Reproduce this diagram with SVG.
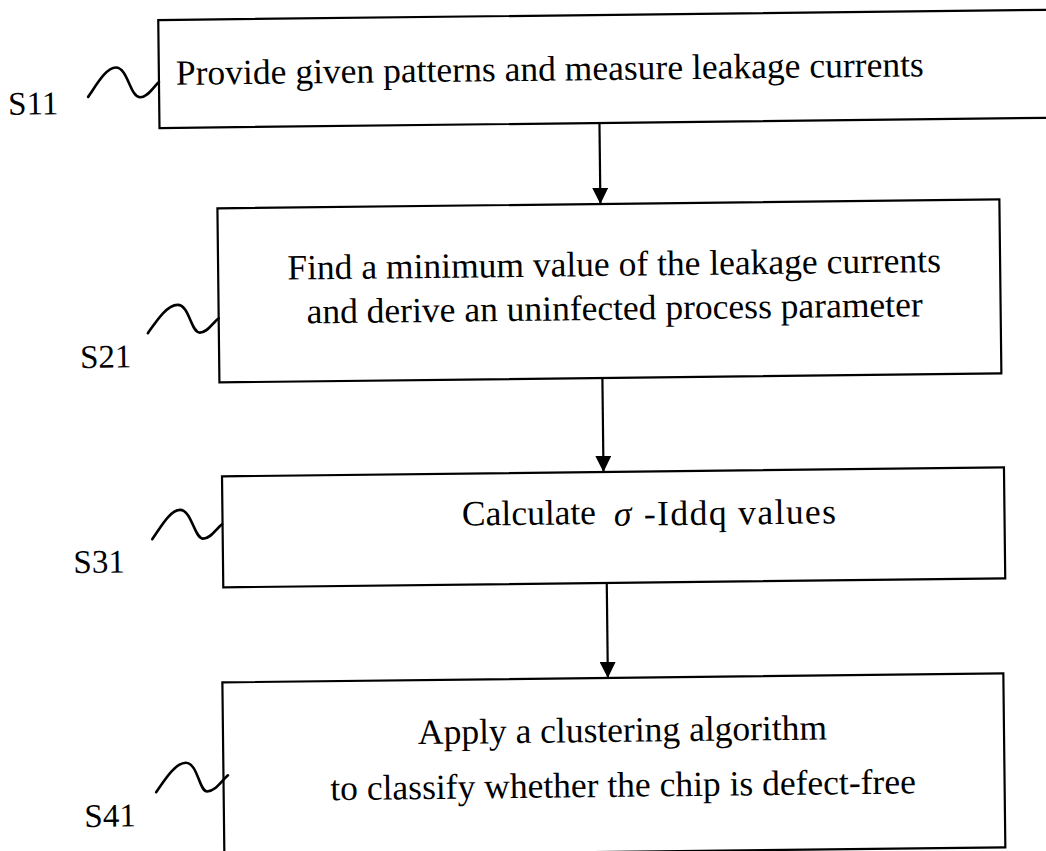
<svg xmlns="http://www.w3.org/2000/svg" width="1046" height="851" viewBox="0 0 1046 851">
<defs>
<marker id="ah" markerWidth="16" markerHeight="16" refX="16" refY="8" orient="auto" markerUnits="userSpaceOnUse"><path d="M0,0 L16,8 L0,16 Z" fill="#000"/></marker>
</defs>
<style>
.box{fill:#fff;stroke:#000;stroke-width:2.2}
.t{font-family:"Liberation Serif","Times New Roman",serif;font-size:35.5px;fill:#000}
.lbl{font-family:"Liberation Serif","Times New Roman",serif;font-size:33px;fill:#000}
.sq{fill:none;stroke:#000;stroke-width:2.6;stroke-linecap:round;stroke-linejoin:round}
.conn{stroke:#000;stroke-width:2.2;fill:none}
</style>
<rect width="1046" height="851" fill="#fff"/>
<g transform="rotate(-0.66 600 430)">
<g id="connectors">
<line class="conn" x1="603" y1="124" x2="603" y2="204" marker-end="url(#ah)"/>
<line class="conn" x1="603" y1="378" x2="603" y2="472" marker-end="url(#ah)"/>
<line class="conn" x1="605" y1="583" x2="605" y2="678" marker-end="url(#ah)"/>
</g>
<g id="S11">
<rect class="box" x="163" y="15" width="920" height="108"/>
<text class="t" x="180" y="80" textLength="748">Provide given patterns and measure leakage currents</text>
<path class="sq" d="M92,91 C100,80 110,62 120,62 C132,62 134,92 144,92 C152,92 157,82 163,77"/>
<text class="lbl" x="12" y="108">S11</text>
</g>
<g id="S21">
<rect class="box" x="220" y="204" width="782" height="174"/>
<text class="t" x="616" y="276" text-anchor="middle">Find a minimum value of the leakage currents</text>
<text class="t" x="616" y="320" text-anchor="middle">and derive an uninfected process parameter</text>
<path class="sq" d="M149,328 C157,317 168,300 179,300 C191,300 192,328 201,328 C209,328 214,318 220,314"/>
<text class="lbl" x="81" y="362">S21</text>
</g>
<g id="S31">
<rect class="box" x="221.5" y="472" width="782" height="111"/>
<text class="t" x="461" y="524">Calculate</text>
<text class="t" x="613" y="526" font-style="italic">σ</text>
<text class="t" x="643" y="526" textLength="192">-Iddq values</text>
<path class="sq" d="M151,534 C159,523 169,505 179,505 C191,505 193,534 202,534 C210,534 215,524 221,520"/>
<text class="lbl" x="72" y="567">S31</text>
</g>
<g id="S41">
<rect class="box" x="219.5" y="678" width="781" height="174"/>
<text class="t" x="619" y="742" text-anchor="middle">Apply a clustering algorithm</text>
<text class="t" x="619" y="797" text-anchor="middle">to classify whether the chip is defect-free</text>
<path class="sq" d="M152,787 C160,776 171,758 182,758 C194,758 195,787 203,787 C211,787 217,777 224,771"/>
<text class="lbl" x="80" y="821">S41</text>
</g>
</g>
</svg>
